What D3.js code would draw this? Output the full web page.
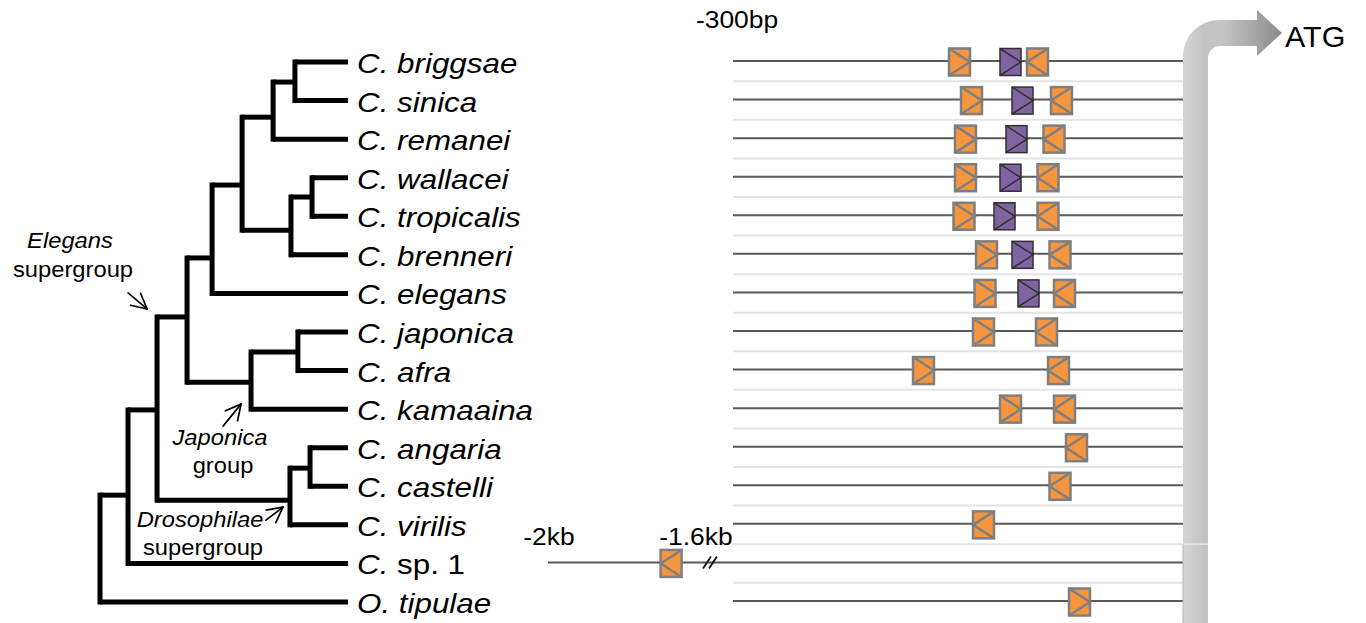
<!DOCTYPE html>
<html><head><meta charset="utf-8">
<script src="https://cdn.jsdelivr.net/npm/d3@7"></script>
<style>
body{margin:0;background:#fff}
svg{display:block}
text{font-family:"Liberation Sans",Arial,Helvetica,sans-serif;fill:#000}
</style>
</head><body>
<svg id="c" width="1366" height="623"></svg>
<script>
// ---------------- DATA ----------------
const speciesGenus = ["C.","C.","C.","C.","C.","C.","C.","C.","C.","C.","C.","C.","C.","C.","O."];
const speciesName  = ["briggsae","sinica","remanei","wallacei","tropicalis","brenneri","elegans",
                      "japonica","afra","kamaaina","angaria","castelli","virilis","sp. 1","tipulae"];
const nameItalic   = [true,true,true,true,true,true,true,true,true,true,true,true,true,false,true];

// tree: [id, parent, depth (0-100 of tree width), y (row units)]
const treeNodes = [
  ["root", null, 0, null],
  ["n13","root",11.3,11.23],
  ["n12","n13",23.0,9.02],
  ["n9","n12",35.1,6.61],
  ["n6","n9",45.2,5.08],
  ["n5","n6",57.3,3.19],
  ["n2","n5",69.8,1.43],
  ["n1","n2",78.6,0.52],
  ["n4","n5",77.0,4.36],
  ["n3","n4",85.5,3.5],
  ["n8","n9",60.9,8.30],
  ["n7","n8",79.8,7.52],
  ["n11","n12",76.6,11.36],
  ["n10","n11",84.7,10.53]
];
const tipParent = ["n1","n1","n2","n3","n3","n4","n6","n7","n7","n8","n10","n10","n11","n13","root"];

// clade annotations: [node, line1 (italic), line2]
const cladeLabels = [
  ["n9","Elegans","supergroup"],
  ["n8","Japonica","group"],
  ["n11","Drosophilae","supergroup"]
];

// binding sites per species row: [position bp from ATG, kind] F=forward orange, R=reverse orange, P=purple
const sites = [
  [[-149,"F"],[-115,"P"],[-97,"R"]],
  [[-141,"F"],[-107,"P"],[-81,"R"]],
  [[-145,"F"],[-111,"P"],[-86,"R"]],
  [[-145,"F"],[-115,"P"],[-90,"R"]],
  [[-146,"F"],[-119,"P"],[-90,"R"]],
  [[-131,"F"],[-107,"P"],[-82,"R"]],
  [[-132,"F"],[-103,"P"],[-79,"R"]],
  [[-133,"F"],[-91,"R"]],
  [[-173,"F"],[-83,"R"]],
  [[-115,"F"],[-79,"R"]],
  [[-71,"R"]],
  [[-82,"R"]],
  [[-133,"R"]],
  [],
  [[-69,"F"]]
];
const farRow = 13;
const farSites = [[-1665,"R"]];
const farTicks = [-2000,-1600];
const farTickLabels = ["-2kb","-1.6kb"];
const mainTicks = [-300];
const mainTickLabels = ["-300bp"];
const startLabel = "ATG";

// ---------------- LAYOUT ----------------
const svg = d3.select("#c");
const xT = d3.scaleLinear().domain([0,100]).range([100,348]);
const yR = d3.scaleLinear().domain([0,14]).range([62,602]);
const xMain = d3.scaleLinear().domain([-300,0]).range([733,1183]);
const xFar = d3.scaleLinear().domain([-2000,-1600]).range([548,695]);

function stext(g, x, y, s, size, anchor){
  return g.append("text")
    .attr("transform",`translate(${x},${y}) scale(${s},1)`)
    .attr("font-size",size)
    .attr("text-anchor",anchor||"start");
}

// ---------------- TREE ----------------
const nodeMap = new Map();
treeNodes.forEach(([id,p,d,y])=>nodeMap.set(id,{id,parent:p,depth:d,y,children:[]}));
speciesName.forEach((n,i)=>nodeMap.set("t"+i,{id:"t"+i,parent:tipParent[i],depth:100,y:i,children:[]}));
nodeMap.forEach(n=>{ if(n.parent) nodeMap.get(n.parent).children.push(n); });

const gTree = svg.append("g").attr("stroke","#000").attr("stroke-width",5).attr("fill","none");
nodeMap.forEach(n=>{
  if(!n.parent) return;
  const p = nodeMap.get(n.parent);
  gTree.append("line").attr("stroke-linecap","butt")
    .attr("x1",xT(p.depth)).attr("x2",xT(n.depth))
    .attr("y1",yR(n.y)).attr("y2",yR(n.y));
});
nodeMap.forEach(n=>{
  if(!n.children.length) return;
  const ys = n.children.map(c=>c.y);
  gTree.append("line").attr("stroke-linecap","square")
    .attr("x1",xT(n.depth)).attr("x2",xT(n.depth))
    .attr("y1",yR(d3.min(ys))).attr("y2",yR(d3.max(ys)));
});

// species labels
speciesName.forEach((nm,i)=>{
  const t = stext(svg, xT(100)+9, yR(i)+11, 1.12, 28);
  t.append("tspan").attr("font-style","italic").text(speciesGenus[i]+" ");
  t.append("tspan").attr("font-style",nameItalic[i]?"italic":"normal").text(nm);
});

// clade annotations
function arrow(g, x0,y0,x1,y1){
  const a = Math.atan2(y0-y1,x0-x1), L=17, h=0.48;
  g.append("line").attr("x1",x0).attr("y1",y0).attr("x2",x1).attr("y2",y1);
  [a+h,a-h].forEach(b=>g.append("line").attr("x1",x1).attr("y1",y1)
     .attr("x2",x1+L*Math.cos(b)).attr("y2",y1+L*Math.sin(b)));
}
const gAnn = svg.append("g");
const gArr = gAnn.append("g").attr("stroke","#000").attr("stroke-width",1.7).attr("stroke-linecap","round");
const annGeom = {
  n9:  {tx:[70,73], ty:[248,277], a:[-59,-24,-40,-8]},
  n8:  {tx:[220,223], ty:[445,473], a:[-28,44,-10,22]},
  n11: {tx:[200,203], ty:[527,555], a:[-24,20,-7,7]}
};
cladeLabels.forEach(([id,l1,l2])=>{
  const n = nodeMap.get(id), g = annGeom[id];
  const nx = xT(n.depth), ny = yR(n.y);
  stext(gAnn, g.tx[0], g.ty[0], 1.08, 22, "middle").attr("font-style","italic").text(l1);
  stext(gAnn, g.tx[1], g.ty[1], 1.08, 22, "middle").text(l2);
  arrow(gArr, nx+g.a[0], ny+g.a[1], nx+g.a[2], ny+g.a[3]);
});

// ---------------- PROMOTER PANEL ----------------
const gP = svg.append("g");
// light separators
d3.range(14).forEach(i=>{
  gP.append("line").attr("x1",xMain(-300)).attr("x2",xMain(0))
    .attr("y1",yR(i+0.5)).attr("y2",yR(i+0.5))
    .attr("stroke","#e4e4e4").attr("stroke-width",2);
});
// row lines
speciesName.forEach((nm,i)=>{
  const x0 = i===farRow ? xFar(farTicks[0]) : xMain(-300);
  gP.append("line").attr("x1",x0).attr("x2",xMain(0))
    .attr("y1",yR(i)-1).attr("y2",yR(i)-1)
    .attr("stroke","#5a5a5a").attr("stroke-width",2);
});
// break mark on far row
{
  const bx = (xFar(farTicks[1])+xMain(-300))/2 - 4, by = yR(farRow)-1;
  [-3,3].forEach(o=>gP.append("line")
    .attr("x1",bx+o-4).attr("y1",by+6).attr("x2",bx+o+4).attr("y2",by-6)
    .attr("stroke","#111").attr("stroke-width",1.8));
}
// axis labels
mainTicks.forEach((t,i)=>stext(gP, xMain(t)+4, 28, 1.1, 24, "middle").text(mainTickLabels[i]));
farTicks.forEach((t,i)=>stext(gP, xFar(t)+1, 545, 1.1, 24, "middle").text(farTickLabels[i]));

// boxes
const BW=21, BH=27;
function site(g, x, y, kind){
  const purple = kind==="P";
  const col = purple ? "#2f2f2f" : "#7f7f7f";
  const sw = purple ? 1.5 : 2.5;
  const x0=x-BW/2, x1=x+BW/2, y0=y-BH/2, y1=y+BH/2;
  g.append("rect").attr("x",x0).attr("y",y0).attr("width",BW).attr("height",BH)
    .attr("fill", purple ? "#8064A2" : "#F7963F").attr("stroke",col).attr("stroke-width",sw);
  const pts = kind==="R" ? [[x1,y0],[x0,y],[x1,y1]] : [[x0,y0],[x1,y],[x0,y1]];
  g.append("path").attr("d",d3.line()(pts)).attr("fill","none")
    .attr("stroke",col).attr("stroke-width",sw);
}
sites.forEach((row,i)=>row.forEach(([p,k])=>site(gP, xMain(p), yR(i), k)));
farSites.forEach(([p,k])=>site(gP, xFar(p), yR(farRow), k));

// ---------------- ATG bent arrow ----------------
const defs = svg.append("defs");
const grad = defs.append("linearGradient").attr("id","ga")
  .attr("gradientUnits","userSpaceOnUse").attr("x1",xMain(0)).attr("x2",xMain(0)+100).attr("y1",0).attr("y2",0);
grad.append("stop").attr("offset",0).attr("stop-color","#d6d6d6");
grad.append("stop").attr("offset",0.22).attr("stop-color","#c2c2c2");
grad.append("stop").attr("offset",0.4).attr("stop-color","#c4c4c4");
grad.append("stop").attr("offset",1).attr("stop-color","#8a8a8a");
{
  const L = xMain(0), R = L+25, top=20, bot=46, ro=36, ri=12, hb=L+74, tip=L+99, ht=10, hbt=56, mid=(top+bot)/2;
  const p = d3.path();
  p.moveTo(L,623); p.lineTo(L,top+ro);
  p.arcTo(L,top,L+ro,top,ro);
  p.lineTo(hb,top); p.lineTo(hb,ht); p.lineTo(tip,mid); p.lineTo(hb,hbt); p.lineTo(hb,bot);
  p.lineTo(R+ri,bot); p.arcTo(R,bot,R,bot+ri,ri);
  p.lineTo(R,623); p.closePath();
  svg.append("path").attr("d",p.toString()).attr("fill","url(#ga)");
  svg.append("line").attr("x1",L-1).attr("x2",R).attr("y1",yR(farRow-0.5)).attr("y2",yR(farRow-0.5))
    .attr("stroke","#e6e6e6").attr("stroke-width",1.5);
  svg.append("line").attr("x1",L).attr("x2",L).attr("y1",yR(farRow-0.5)).attr("y2",623)
    .attr("stroke","#b5b5b5").attr("stroke-width",1);
  stext(svg, tip+3, 47, 1.05, 29).text(startLabel);
}
</script>
</body></html>
